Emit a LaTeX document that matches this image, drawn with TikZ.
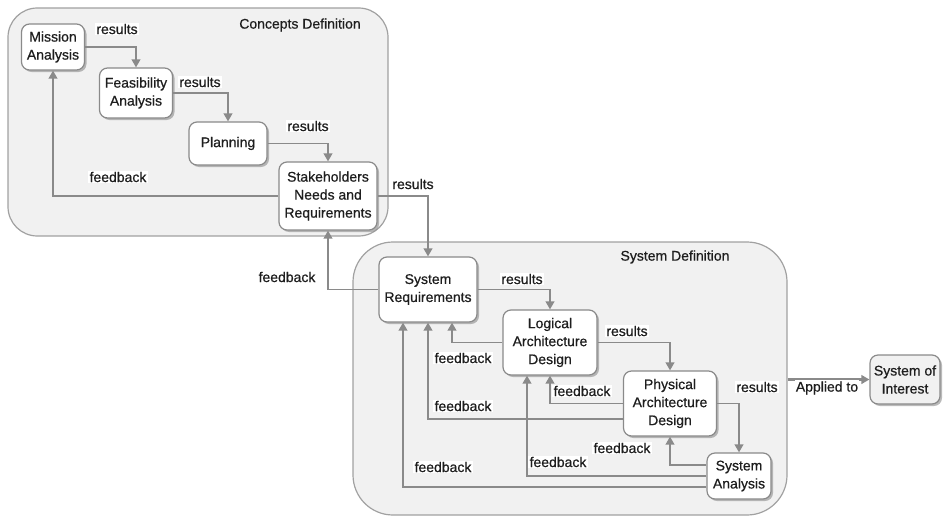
\documentclass[tikz,border=0pt]{standalone}
\usepackage{fontspec}
\setmainfont{Liberation Sans}[FakeBold=0.6]
\usetikzlibrary{arrows.meta,shadows,calc}
\definecolor{linegray}{HTML}{8A8A8A}
\definecolor{boxgray}{HTML}{F1F1F1}
\definecolor{txt}{HTML}{1E1E1E}
\tikzset{
  container/.style={draw=linegray!80, line width=0.9pt, fill=boxgray, rounded corners=#1, inner sep=0pt},
  procbox/.style={draw=linegray, line width=0.9pt, fill=white, rounded corners=6pt, align=center,
    text=txt, inner sep=1pt,
    drop shadow={shadow xshift=1.5pt, shadow yshift=-1.5pt, fill=black!45, opacity=0.6}},
  flow/.style={draw=linegray, line width=1.3pt, -{Triangle[length=6pt,width=6.5pt]}},
  lbl/.style={fill=white, text=txt, inner sep=1pt},
  ttl/.style={text=txt, inner sep=1pt},
}
\begin{document}
\begin{tikzpicture}[x=0.75pt, y=-0.75pt, font=\fontsize{10.5}{13.5}\selectfont]
\useasboundingbox (0,0) rectangle (944,517);
% containers
\node[container=22pt, minimum width=380*0.75pt, minimum height=228*0.75pt] (cdef) at (198,122) {};
\node[ttl] (cdeft) at (300,25) {Concepts Definition};
\node[container=30pt, minimum width=434*0.75pt, minimum height=273*0.75pt] (sdef) at (570,378.5) {};
\node[ttl] (sdeft) at (675,257) {System Definition};
% process boxes
\node[procbox, minimum width=63*0.75pt, minimum height=46*0.75pt] (mission) at (53,47) {Mission\\Analysis};
\node[procbox, minimum width=73*0.75pt, minimum height=50*0.75pt] (feas) at (136,93) {Feasibility\\Analysis};
\node[procbox, minimum width=78*0.75pt, minimum height=43*0.75pt] (plan) at (228,143.5) {Planning};
\node[procbox, minimum width=98*0.75pt, minimum height=68*0.75pt] (stake) at (328,196) {Stakeholders\\Needs and\\Requirements};
\node[procbox, minimum width=98*0.75pt, minimum height=65*0.75pt] (sysreq) at (428,289.5) {System\\Requirements};
\node[procbox, minimum width=94*0.75pt, minimum height=65*0.75pt] (logic) at (550,342.5) {Logical\\Architecture\\Design};
\node[procbox, minimum width=93*0.75pt, minimum height=65*0.75pt] (phys) at (670,403.5) {Physical\\Architecture\\Design};
\node[procbox, minimum width=64*0.75pt, minimum height=46*0.75pt] (sysan) at (739,476) {System\\Analysis};
\node[procbox, fill=boxgray, minimum width=70*0.75pt, minimum height=49*0.75pt] (soi) at (905,379.5) {System of\\Interest};
% connectors (concepts)
\draw[flow] (mission.east) -| (feas.north);
\draw[flow] (feas.east) -| (plan.north);
\draw[flow] (plan.east) -| (stake.north);
\draw[flow] (stake.west) -| (mission.south);
\draw[flow] (stake.east) -| (sysreq.north);
\draw[flow] (sysreq.west) -| (stake.south);
% connectors (system)
\draw[flow] (sysreq.east) -| (logic.north);
\draw[flow] (logic.west) -| ($(sysreq.south)+(24,0)$);
\draw[flow] (logic.east) -| (phys.north);
\draw[flow] (phys.west) -| (logic.south);
\draw[flow] ($(phys.west)+(0,15.5)$) -| (sysreq.south);
\draw[flow] (phys.east) -| (sysan.north);
\draw[flow] ($(sysan.west)+(0,-11)$) -| (phys.south);
\draw[flow] (sysan.west) -| ($(logic.south)+(-23,0)$);
\draw[flow] ($(sysan.west)+(0,11)$) -| ($(sysreq.south)+(-25,0)$);
\draw[flow, line width=2pt] (sdef.east |- soi.west) -- (soi.west);
% labels
\node[lbl] (l1) at (117,29) {results};
\node[lbl] (l2) at (200,82) {results};
\node[lbl] (l3) at (308,126) {results};
\node[lbl] (l4) at (118,177) {feedback};
\node[lbl] (l5) at (413,184) {results};
\node[lbl] (l6) at (287,277) {feedback};
\node[lbl] (l7) at (522,279) {results};
\node[lbl] (l8) at (463,358) {feedback};
\node[lbl] (l9) at (627,331) {results};
\node[lbl] (l10) at (582,391) {feedback};
\node[lbl] (l11) at (463,406) {feedback};
\node[lbl] (l12) at (757,387) {results};
\node[lbl] (l13) at (622,448) {feedback};
\node[lbl] (l14) at (558,462) {feedback};
\node[lbl] (l15) at (443,467) {feedback};
\node[lbl] (l16) at (827,388) {Applied to};
\end{tikzpicture}
\end{document}
